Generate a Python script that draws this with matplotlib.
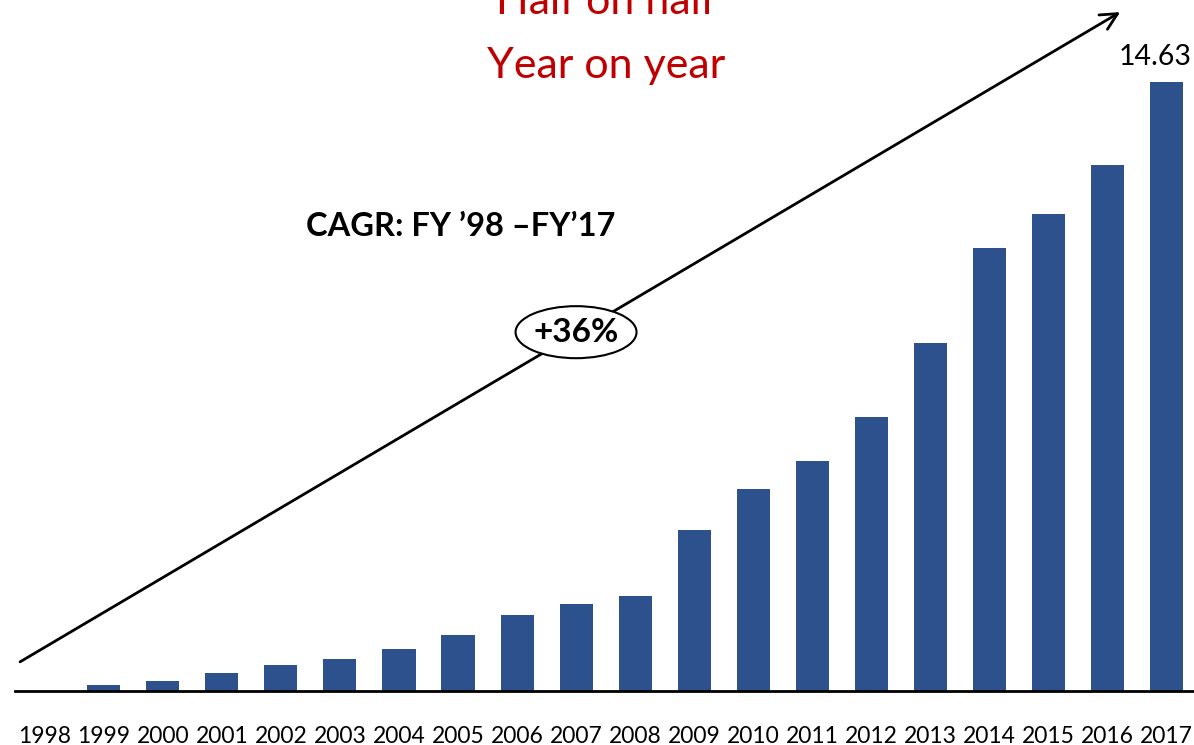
import matplotlib.pyplot as plt
from matplotlib.patches import Ellipse

years = [str(y) for y in range(1998, 2018)]
values = [0.0, 0.14, 0.24, 0.43, 0.62, 0.77, 1.01, 1.35, 1.83, 2.09,
          2.28, 3.87, 4.85, 5.52, 6.58, 8.36, 10.64, 11.46, 12.64, 14.63]

plt.rcParams['font.family'] = ['Lato', 'DejaVu Sans']

fig = plt.figure(figsize=(11.94, 7.45), dpi=100)
ax = fig.add_axes([0.0, 54 / 745, 1.0, 691 / 745])

x = list(range(len(years)))
ax.bar(x, values, width=0.56, color='#2c518c', zorder=2)
ax.set_xlim(-0.76, 19.47)
ax.set_ylim(0, 16.6)

for side in ['top', 'right', 'left']:
    ax.spines[side].set_visible(False)
ax.spines['bottom'].set_linewidth(2)
ax.spines['bottom'].set_bounds(-0.51, 19.47)
ax.set_yticks([])
ax.set_xticks(x)
ax.set_xticklabels(years, fontsize=16.5)
ax.tick_params(axis='x', length=0, pad=25)

# value label on last bar
ax.text(x[-1] - 0.18, values[-1] + 0.29, f'{values[-1]:.2f}', ha='center',
        va='bottom', fontsize=20.5)

# CAGR arrow
ax.annotate('', xy=(18.22, 16.31), xytext=(-0.42, 0.70),
            arrowprops=dict(arrowstyle='->', lw=2, color='black',
                            mutation_scale=30, shrinkA=0, shrinkB=0),
            annotation_clip=False)

ax.add_patch(Ellipse((9.0, 8.62), 2.05, 1.25, facecolor='white',
                     edgecolor='black', lw=1.5, zorder=3))
ax.text(9.0, 8.62, '+36%', ha='center', va='center', fontsize=24,
        fontweight='bold', zorder=4)
ax.text(7.05, 11.16, 'CAGR: FY \u201998 \u2013FY\u201917', ha='center',
        va='center', fontsize=23.5, fontweight='bold')

fig.text(606 / 1194, 1 - 78 / 745, 'Year on year', ha='center', va='baseline',
         fontsize=31, color='#c00000')
fig.text(606 / 1194, 1 - 14 / 745, 'Half on half', ha='center', va='baseline',
         fontsize=31, color='#c00000')

fig.savefig('out.png', dpi=100)
